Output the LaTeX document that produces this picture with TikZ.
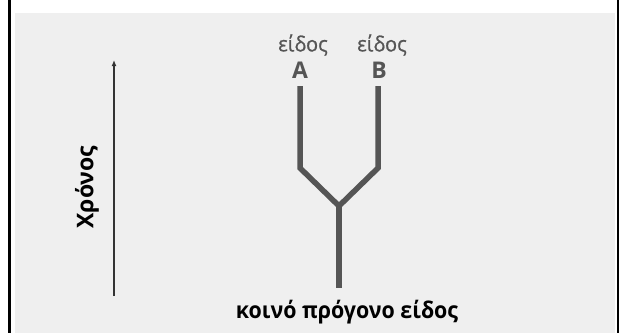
\documentclass[tikz,border=0pt]{standalone}
\usepackage{fontspec}
\setmainfont{Open Sans}
\newfontfamily\medfont[FakeBold=0.8]{Open Sans}
\usetikzlibrary{arrows.meta}
\definecolor{panel}{HTML}{EFEFEF}
\definecolor{branch}{HTML}{555555}
\tikzset{
  branchline/.style={draw=branch, line width=5.5pt, line join=miter},
  splabel/.style={text=branch, inner sep=0pt, xscale=0.95, transform shape, font=\fontsize{21}{21}\medfont},
  splet/.style={text=branch, inner sep=0pt, font=\fontsize{23}{23}\selectfont\bfseries},
  blacklabel/.style={text=black, inner sep=0pt, xscale=0.93, transform shape, font=\fontsize{23}{23}\selectfont\bfseries},
  timelabel/.style={text=black, inner sep=0pt, font=\fontsize{23}{23}\selectfont\bfseries},
  timearrow/.style={draw=black!80, line width=1.3pt, -{Latex[length=6pt,width=5pt]}}
}
\begin{document}
\begin{tikzpicture}[x=1pt,y=-1pt]
\useasboundingbox (0,0) rectangle (619,333);
\fill[white] (0,0) rectangle (619,333);
\fill[panel] (15,13) rectangle (615,333);
\fill[black] (8,0) rectangle (11,333);
\fill[black] (617,0) rectangle (619,333);
% tree
\coordinate (topA) at (300,86);
\coordinate (kinkA) at (300,168);
\coordinate (topB) at (378,86);
\coordinate (kinkB) at (378,168);
\coordinate (junc) at (339,206);
\coordinate (root) at (339,288);
\draw[branchline] (topA) -- (kinkA) -- (junc) -- (kinkB) -- (topB);
\draw[branchline] (junc) -- (root);
% labels
\node[splabel] (eA) at (303,45) {είδος};
\node[splabel] (eB) at (382,45) {είδος};
\node[splet] (lA) at (300,70) {A};
\node[splet] (lB) at (379,70) {B};
\node[blacklabel] (anc) at (347,312) {κοινό πρόγονο είδος};
% time axis
\coordinate (tbot) at (114,296);
\coordinate (ttop) at (114,60);
\draw[timearrow] (tbot) -- (ttop);
\node[timelabel, rotate=90] (time) at (87,187) {Χρόνος};
\end{tikzpicture}
\end{document}
